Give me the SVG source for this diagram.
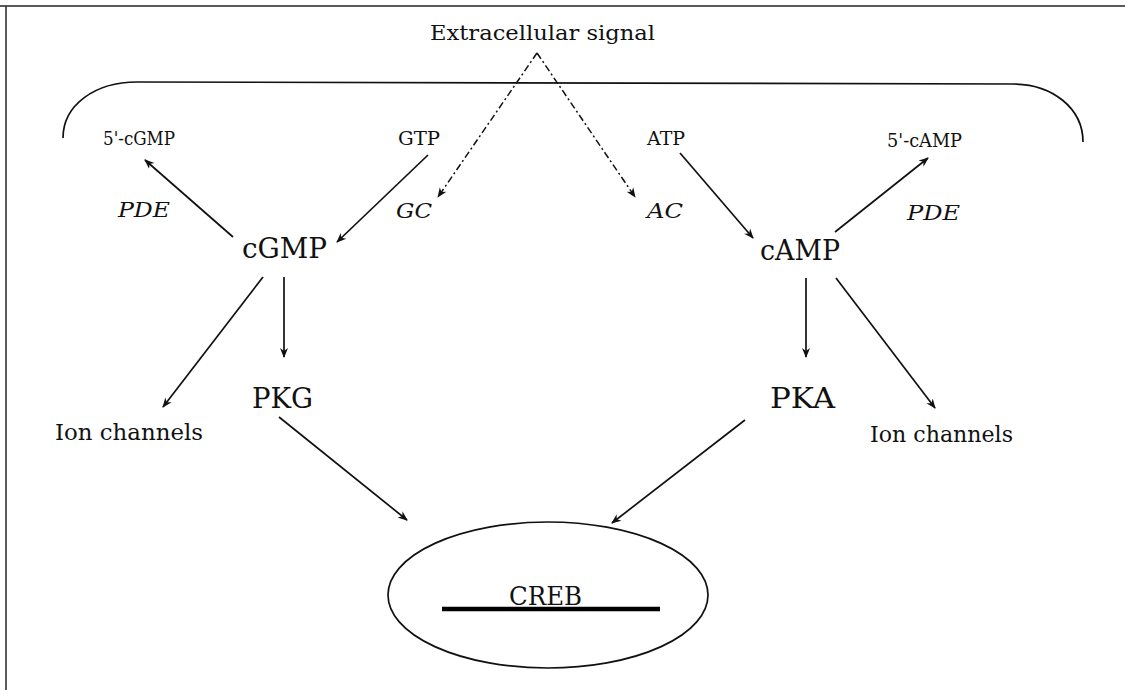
<svg xmlns="http://www.w3.org/2000/svg" width="1125" height="690" viewBox="0 0 1125 690">
<defs>
<style>
.t{font-family:"DejaVu Serif","Liberation Serif",serif;fill:#111;}
.it{font-style:italic;}
.ln{stroke:#111;stroke-width:1.7;fill:none;}
.dd{stroke:#111;stroke-width:1.5;fill:none;stroke-dasharray:7 3 2 3;}
</style>
<marker id="ah" viewBox="0 0 10 10" refX="9" refY="5" markerWidth="10" markerHeight="10" markerUnits="userSpaceOnUse" orient="auto">
<path d="M0,1 L10,5 L0,9 L3,5 Z" fill="#111"/>
</marker>
</defs>
<rect width="1125" height="690" fill="#fff"/>
<g id="frame">
<line x1="0" y1="6" x2="1125" y2="6" stroke="#222" stroke-width="1.6"/>
<line x1="6" y1="6" x2="6" y2="690" stroke="#333" stroke-width="1.6"/>
</g>
<g id="membrane">
<path class="ln" d="M63,138 C63,105 95,82 137,82 L1013,84 C1052,84 1083,108 1083,142"/>
</g>
<g id="connectors">
<path class="dd" d="M537,53 L438,197" marker-end="url(#ah)"/>
<path class="dd" d="M537,53 L635,197" marker-end="url(#ah)"/>
<path class="ln" d="M233,237 L145,160" marker-end="url(#ah)"/>
<path class="ln" d="M428,155 L337,242" marker-end="url(#ah)"/>
<path class="ln" d="M680,153 L753,238" marker-end="url(#ah)"/>
<path class="ln" d="M835,232 L928,158" marker-end="url(#ah)"/>
<path class="ln" d="M263,277 L163,407" marker-end="url(#ah)"/>
<path class="ln" d="M284,277 L284,357" marker-end="url(#ah)"/>
<path class="ln" d="M806,278 L806,357" marker-end="url(#ah)"/>
<path class="ln" d="M836,278 L935,408" marker-end="url(#ah)"/>
<path class="ln" d="M279,417 L407,520" marker-end="url(#ah)"/>
<path class="ln" d="M745,420 L612,523" marker-end="url(#ah)"/>
</g>
<g id="extracellular"><text class="t" x="430" y="40" font-size="21" textLength="225" lengthAdjust="spacingAndGlyphs">Extracellular signal</text></g>
<g id="n5cGMP"><text class="t" x="103" y="145" font-size="18" textLength="72" lengthAdjust="spacingAndGlyphs">5'-cGMP</text></g>
<g id="GTP"><text class="t" x="398" y="145" font-size="18" textLength="42" lengthAdjust="spacingAndGlyphs">GTP</text></g>
<g id="ATP"><text class="t" x="647" y="145" font-size="18" textLength="38" lengthAdjust="spacingAndGlyphs">ATP</text></g>
<g id="n5cAMP"><text class="t" x="887" y="147" font-size="18" textLength="75" lengthAdjust="spacingAndGlyphs">5'-cAMP</text></g>
<g id="PDE1"><text class="t it" x="118" y="217" font-size="20" textLength="52" lengthAdjust="spacingAndGlyphs">PDE</text></g>
<g id="GC"><text class="t it" x="396" y="218" font-size="20" textLength="36" lengthAdjust="spacingAndGlyphs">GC</text></g>
<g id="AC"><text class="t it" x="647" y="218" font-size="20" textLength="36" lengthAdjust="spacingAndGlyphs">AC</text></g>
<g id="PDE2"><text class="t it" x="907" y="220" font-size="20" textLength="53" lengthAdjust="spacingAndGlyphs">PDE</text></g>
<g id="cGMP"><text class="t" x="242" y="258" font-size="27" textLength="85" lengthAdjust="spacingAndGlyphs">cGMP</text></g>
<g id="cAMP"><text class="t" x="760" y="260" font-size="27" textLength="80" lengthAdjust="spacingAndGlyphs">cAMP</text></g>
<g id="PKG"><text class="t" x="252" y="408" font-size="27" textLength="61" lengthAdjust="spacingAndGlyphs">PKG</text></g>
<g id="PKA"><text class="t" x="770" y="408" font-size="27" textLength="65" lengthAdjust="spacingAndGlyphs">PKA</text></g>
<g id="ion1"><text class="t" x="55" y="440" font-size="23" textLength="148" lengthAdjust="spacingAndGlyphs">Ion channels</text></g>
<g id="ion2"><text class="t" x="870" y="442" font-size="23" textLength="143" lengthAdjust="spacingAndGlyphs">Ion channels</text></g>
<g id="CREB">
<ellipse cx="548" cy="595" rx="160" ry="73" class="ln"/>
<text class="t" x="509" y="605" font-size="26" textLength="73" lengthAdjust="spacingAndGlyphs">CREB</text>
<line x1="442" y1="609" x2="660" y2="609" stroke="#000" stroke-width="4.5"/>
</g>
</svg>
